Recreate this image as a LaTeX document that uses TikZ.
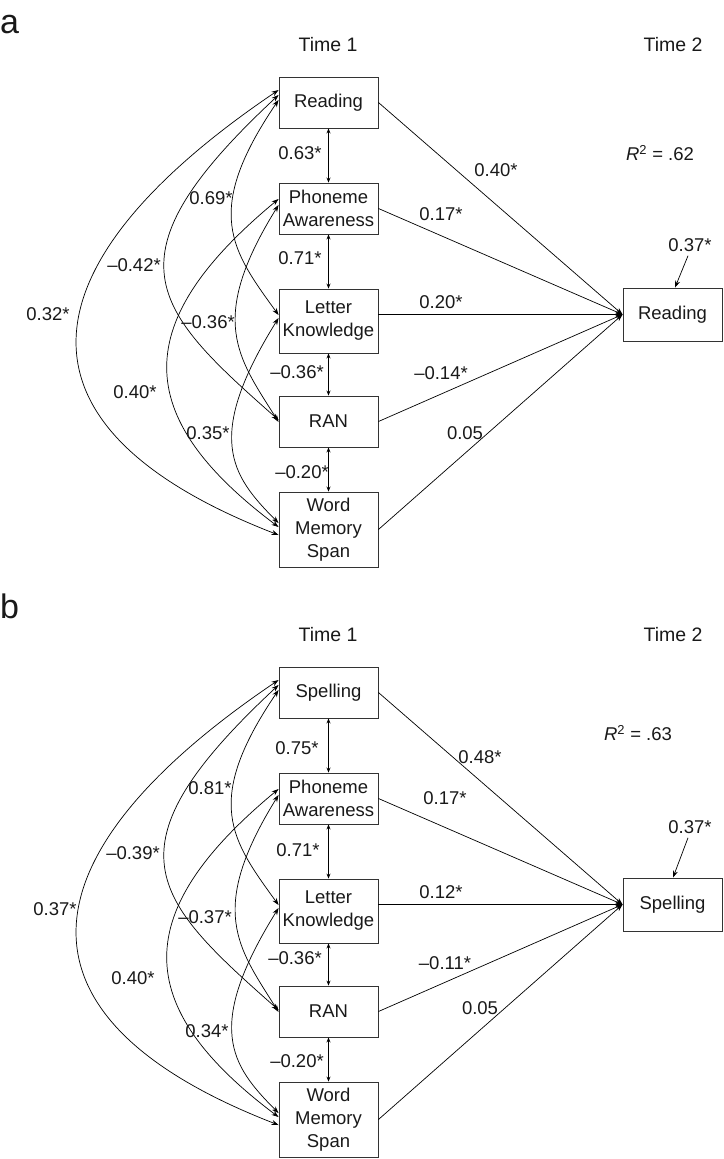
\documentclass[tikz,border=0pt]{standalone}
\usepackage{fontspec}
\setmainfont{Liberation Sans}
\usepackage{xcolor}
\usetikzlibrary{arrows.meta}

\tikzset{
  var/.style={draw=black!80,line width=0.9pt,minimum width=99pt,minimum height=51pt,
    inner sep=2pt,align=center,text=black!90,font=\fontsize{18.5}{23}\selectfont},
  lbl/.style={inner sep=1pt,text=black!90,font=\fontsize{18.5}{23}\selectfont},
  effect/.style={line width=0.7pt,-{Stealth[length=7pt,width=5pt]}},
  corr/.style={line width=0.7pt,{Stealth[length=7pt,width=5pt]}-{Stealth[length=7pt,width=5pt]}},
  corrs/.style={line width=0.7pt,{Stealth[length=5pt,width=4pt]}-{Stealth[length=5pt,width=4pt]}},
}

\begin{document}
\begin{tikzpicture}[x=1pt,y=1pt]
    \useasboundingbox (0,0) rectangle (723,-1159);

    % the two panels share the same layout
    \foreach \p/\off/\name in {a/0/Reading,b/590/Spelling}{
    \begin{scope}[yshift=-\off pt]
        \node[lbl,font=\fontsize{19.5}{23}\selectfont] (ta\p) at (328,-45) {Time 1};
        \node[lbl,font=\fontsize{19.5}{23}\selectfont] (tb\p) at (673,-45) {Time 2};
        \node[var] (top\p) at (328.5,-102.5) {\name};
        \node[var] (pa\p) at (328.5,-208.5) {Phoneme\\Awareness};
        \node[var,minimum height=64pt] (lk\p) at (328.5,-321) {Letter\\Knowledge};
        \node[var] (ran\p) at (328.5,-421.5) {RAN};
        \node[var,minimum height=75pt] (wms\p) at (328.5,-529.5) {Word\\Memory\\Span};
        \node[var,minimum height=53pt] (out\p) at (672.5,-314.5) {\name};
        % neighbours
        \draw[corrs] (top\p) -- (pa\p);
        \draw[corrs] (pa\p) -- (lk\p);
        \draw[corrs] (lk\p) -- (ran\p);
        \draw[corrs] (ran\p) -- (wms\p);
        % paths to time 2
        \draw[effect] (top\p.east) -- (out\p.west);
        \draw[effect] (pa\p.east) -- (out\p.west);
        \draw[effect] (lk\p.east |- out\p.west) -- (out\p.west);
        \draw[effect] (ran\p.east) -- (out\p.west);
        \draw[effect] (wms\p.east) -- (out\p.west);
        % curved correlations
        \draw[corr] ([yshift=12.5pt]top\p.west) .. controls +(-253,-171) and +(-284,110) .. ([yshift=-5.5pt]wms\p.west);
        \draw[corr] ([yshift=7.5pt]top\p.west) .. controls +(-175,-163) and +(-127,112) .. ([yshift=1.5pt]ran\p.west);
        \draw[corr] ([yshift=2.5pt]top\p.west) .. controls +(-76,-112) and +(-47,65) .. ([yshift=6pt]lk\p.west);
        \draw[corr] ([yshift=3.5pt]pa\p.west) .. controls +(-72,-116) and +(-40,64) .. ([yshift=-0.5pt]ran\p.west);
        \draw[corr] ([yshift=9.5pt]pa\p.west) .. controls +(-147,-122) and +(-149,112) .. ([yshift=2.5pt]wms\p.west);
        \draw[corr] ([yshift=3pt]lk\p.west) .. controls +(-74,-119) and +(-48,48) .. ([yshift=6.5pt]wms\p.west);
    \end{scope}
    }

    % panel a
    \node[lbl,font=\fontsize{34}{34}\selectfont,anchor=base west,inner sep=0pt] (pnla) at (0,-33) {a};
    \node[lbl] (ca1) at (300,-153) {0.63*};
    \node[lbl] (ca2) at (300,-258) {0.71*};
    \node[lbl] (ca3) at (297,-372) {\textendash0.36*};
    \node[lbl] (ca4) at (302,-472) {\textendash0.20*};
    \node[lbl] (ca5) at (211,-198) {0.69*};
    \node[lbl] (ca6) at (134,-265) {\textendash0.42*};
    \node[lbl] (ca7) at (48,-314) {0.32*};
    \node[lbl] (ca8) at (208,-322) {\textendash0.36*};
    \node[lbl] (ca9) at (135,-392) {0.40*};
    \node[lbl] (ca10) at (208,-433) {0.35*};
    \node[lbl] (rsqa) at (660,-153) {\textit{R}\textsuperscript{2} = .62};
    \node[lbl] (pa1) at (496,-170) {0.40*};
    \node[lbl] (pa2) at (441,-214) {0.17*};
    \node[lbl] (pa3) at (441,-302) {0.20*};
    \node[lbl] (pa4) at (441,-373) {\textendash0.14*};
    \node[lbl] (pa5) at (465,-433) {0.05};
    \node[lbl] (erra) at (690,-245) {0.37*};
    \draw[effect] ([xshift=-2pt,yshift=-3pt]erra.south) -- ([xshift=2.5pt]outa.north);

    % panel b
    \node[lbl,font=\fontsize{34}{34}\selectfont,anchor=base west,inner sep=0pt] (pnlb) at (0,-618) {b};
    \node[lbl] (cb1) at (297,-748) {0.75*};
    \node[lbl] (cb2) at (298,-850) {0.71*};
    \node[lbl] (cb3) at (295,-958) {\textendash0.36*};
    \node[lbl] (cb4) at (297,-1061) {\textendash0.20*};
    \node[lbl] (cb5) at (210,-788) {0.81*};
    \node[lbl] (cb6) at (133,-853) {\textendash0.39*};
    \node[lbl] (cb7) at (55,-909) {0.37*};
    \node[lbl] (cb8) at (205,-917) {\textendash0.37*};
    \node[lbl] (cb9) at (133,-978) {0.40*};
    \node[lbl] (cb10) at (207,-1031) {0.34*};
    \node[lbl] (rsqb) at (638,-733) {\textit{R}\textsuperscript{2} = .63};
    \node[lbl] (pb1) at (480,-757) {0.48*};
    \node[lbl] (pb2) at (445,-798) {0.17*};
    \node[lbl] (pb3) at (441,-892) {0.12*};
    \node[lbl] (pb4) at (445,-963) {\textendash0.11*};
    \node[lbl] (pb5) at (480,-1008) {0.05};
    \node[lbl] (errb) at (690,-827) {0.37*};
    \draw[effect] ([xshift=-2pt,yshift=-3pt]errb.south) -- ([xshift=0.5pt]outb.north);
\end{tikzpicture}
\end{document}
